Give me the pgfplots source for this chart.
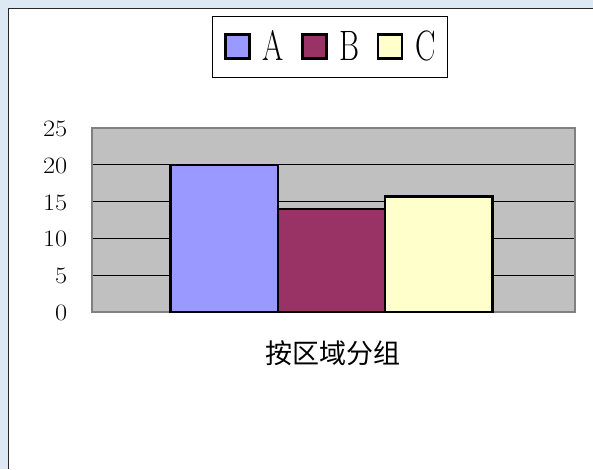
\documentclass[border=0pt]{standalone}
\usepackage{fontspec}
\usepackage{graphicx}
\usepackage{pgfplots}
\pgfplotsset{compat=1.18}
\newfontfamily\cjk{Noto Sans CJK SC}
\definecolor{bgblue}{RGB}{221,232,245}
\definecolor{plotgray}{RGB}{192,192,192}
\definecolor{colA}{RGB}{153,153,255}
\definecolor{colB}{RGB}{153,51,102}
\definecolor{colC}{RGB}{255,255,204}
\newcommand\legtxt[1]{\scalebox{0.72}[1]{\fontsize{42.5}{42.5}\selectfont #1}}
\pgfplotsset{mylegimg/.style={legend image code/.code={\draw[##1,draw=black,line width=2.5pt] (0pt,-12pt) rectangle (24pt,12pt);}}}
\begin{document}
\begin{tikzpicture}
\path[use as bounding box, fill=bgblue] (0pt,0pt) rectangle (593pt,-469pt);
\fill[white] (8.5pt,-8.5pt) rectangle (593pt,-469pt);
\draw[line width=1.6pt, black!85] (8.5pt,-469pt) -- (8.5pt,-8.5pt) -- (593pt,-8.5pt);
\begin{axis}[
  at={(92pt,-312pt)}, anchor=south west,
  scale only axis, width=483pt, height=184pt,
  xmin=-2.232, xmax=2.268, ymin=0, ymax=25,
  ytick={0,5,10,15,20,25}, xtick=\empty,
  ymajorgrids, grid style={black, line width=0.8pt},
  major tick length=0pt,
  axis background/.style={fill=plotgray},
  axis line style={draw=black!50, line width=1.6pt},
  yticklabel style={font=\fontsize{23.5}{23.5}\selectfont, inner sep=0pt, anchor=east, xshift=-24.5pt, yshift=-1pt},
  yticklabel={\scalebox{1.12}[1]{\pgfmathprintnumber[assume math mode=true]{\tick}}},
  xlabel={\cjk 按区域分组},
  every axis x label/.style={at={(axis description cs:0.4996,0)}, anchor=center, yshift=-41.5pt, font=\fontsize{27}{27}\selectfont},
  legend columns=-1,
  legend style={at={(axis description cs:0.2484,1.6087)}, anchor=north west, draw=black, line width=0.8pt, fill=white,
    inner xsep=12pt, inner ysep=14.5pt,
    /tikz/every odd column/.style={column sep=12pt},
    /tikz/every even column/.style={column sep=17pt},
    nodes={inner sep=0pt}},
]
\addplot[ybar, bar width=1, bar shift=-1, fill=colA, draw=black, line width=2.5pt, mylegimg] coordinates {(0,20)};
\addlegendentry{\legtxt{A}}
\addplot[ybar, bar width=1, bar shift=0, fill=colB, draw=black, line width=2.5pt, mylegimg] coordinates {(0,14)};
\addlegendentry{\legtxt{B}}
\addplot[ybar, bar width=1, bar shift=1, fill=colC, draw=black, line width=2.5pt, mylegimg] coordinates {(0,15.7)};
\addlegendentry{\legtxt{C}}
\end{axis}
\end{tikzpicture}
\end{document}
